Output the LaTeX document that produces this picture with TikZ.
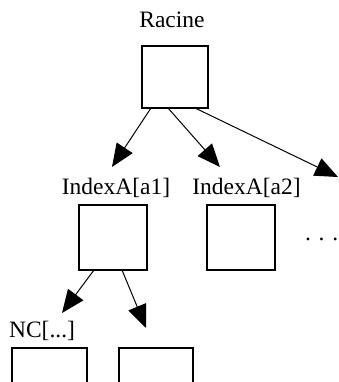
\documentclass[tikz,border=0pt]{standalone}
\usepackage{fontspec}
\setmainfont{Liberation Serif}
\usetikzlibrary{arrows.meta}
\begin{document}
\begin{tikzpicture}[x=1pt,y=-1pt,
  box/.style={draw,line width=2pt,inner sep=0pt,outer sep=0pt},
  lbl/.style={inner sep=0pt,anchor=base,font=\fontsize{23.5}{26}\selectfont},
  arr/.style={line width=1pt,-{Triangle[length=23pt,width=19pt]}}]
\clip (0,0) rectangle (339,382);
\node[lbl] (tracine) at (172,28) {Racine};
\node[box,minimum width=66pt,minimum height=62pt] (racine) at (175,77) {};
\node[lbl] (ta1) at (116,194) {IndexA[a1]};
\node[lbl] (ta2) at (246.5,194) {IndexA[a2]};
\node[box,minimum width=68pt,minimum height=65pt] (a1) at (113,237.5) {};
\node[box,minimum width=68pt,minimum height=65pt] (a2) at (241,237.5) {};
\node[lbl,anchor=base east] (dots) at (338.5,240) {.\,\,.\,\,.};
\node[lbl] (tnc) at (42,337) {NC[...]};
\node[box,minimum width=75pt,minimum height=65pt] (c1) at (49.5,380.5) {};
\node[box,minimum width=74pt,minimum height=65pt] (c2) at (156,380.5) {};
\coordinate (e1) at (112,167);
\coordinate (e2) at (220,167);
\coordinate (e3) at (338,177);
\coordinate (e4) at (62,313);
\coordinate (e5) at (146,328);
\draw[arr] (racine.south west) ++(9,0) coordinate (s1) -- (e1);
\draw[arr] (racine.south west) ++(26,0) coordinate (s2) -- (e2);
\draw[arr] (racine.south west) ++(53,0) coordinate (s3) -- (e3);
\draw[arr] (a1.south west) ++(15,0) coordinate (s4) -- (e4);
\draw[arr] (a1.south west) ++(43,0) coordinate (s5) -- (e5);
\end{tikzpicture}
\end{document}
